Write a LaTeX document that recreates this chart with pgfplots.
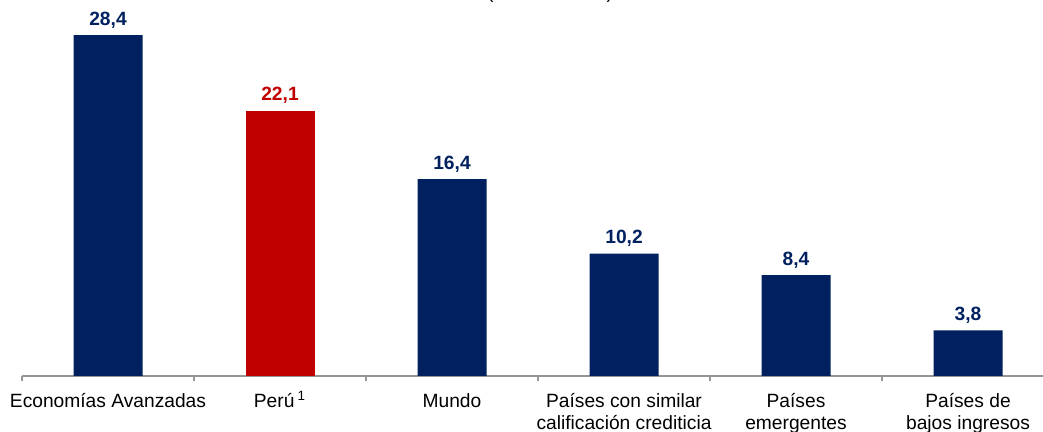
\documentclass[border=0pt]{standalone}
\usepackage{fontspec}
\setmainfont{Liberation Sans}
\usepackage{pgfplots}
\pgfplotsset{compat=1.18}
\definecolor{navy}{RGB}{0,32,96}
\definecolor{rojo}{RGB}{192,0,0}
\definecolor{axgray}{RGB}{150,150,150}
\begin{document}
\begin{tikzpicture}
\fontsize{9.6}{11}\selectfont
\begin{axis}[
  scale only axis,
  width=510.5pt, height=188pt,
  xmin=-0.5, xmax=5.436,
  ymin=0, ymax=31.33,
  axis x line*=bottom,
  hide y axis,
  axis line style={axgray, line width=0.8pt},
  ybar, bar width=34.5pt,
  xtick={0,1,2,3,4,5},
  xticklabels={Economías Avanzadas, Perú\,\smash{\textsuperscript{1}}, Mundo, Países con similar\\calificación crediticia, Países\\emergentes, Países de\\bajos ingresos},
  x tick label style={align=center, font=\fontsize{9.6}{11}\selectfont, text=black, yshift=-5.5pt},
  major tick length=0pt,
  minor xtick={-0.5,0.5,1.5,2.5,3.5,4.5,5.5},
  minor tick length=2.5pt,
  tick align=outside,
  minor tick style={axgray, line width=0.8pt},
  clip=false,
  nodes near coords,
  every node near coord/.append style={font=\fontsize{9.6}{11}\selectfont\bfseries},
  /pgf/number format/.cd, use comma, fixed, fixed zerofill, precision=1, assume math mode=true,
]
\addplot[fill=navy, draw=none, bar shift=0pt, every node near coord/.append style={text=navy}]
  coordinates {(0,28.4) (2,16.4) (3,10.2) (4,8.4) (5,3.8)};
\addplot[fill=rojo, draw=none, bar shift=0pt, every node near coord/.append style={text=rojo}]
  coordinates {(1,22.1)};
\end{axis}
\node[anchor=base, inner sep=0pt, font=\fontsize{9.6}{11}\selectfont] at (264pt,188.6pt) {(En \% del PBI)};
\pgfresetboundingbox
\path (-11pt,-28pt) rectangle (510.5pt,188pt);
\end{tikzpicture}
\end{document}
